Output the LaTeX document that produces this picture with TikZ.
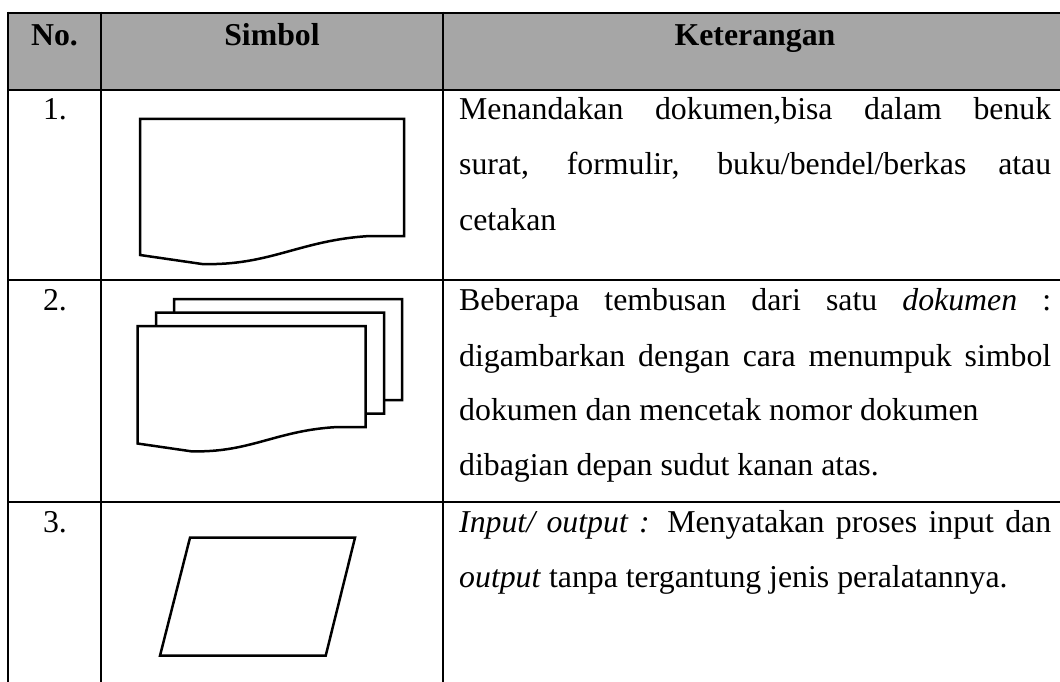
\documentclass[tikz,border=0pt]{standalone}
\usepackage{fontspec}
\setmainfont{Liberation Serif}
\definecolor{hdrgray}{RGB}{166,166,166}
\tikzset{
  tabline/.style={line width=2.8pt, black},
  symline/.style={line width=2.5pt, black, line join=miter, fill=white},
  bodytxt/.style={anchor=base west, inner sep=0pt, font=\fontsize{31.8}{38}\selectfont},
  numtxt/.style={anchor=base, inner sep=0pt, font=\fontsize{31.8}{38}\selectfont},
  hdrtxt/.style={anchor=base, inner sep=0pt, font=\fontsize{31.8}{38}\selectfont\bfseries},
}
\newcommand{\docpath}{(0,0) -- (264,0) -- (264,117) -- (230,117) .. controls (160,121) and (130,147) .. (62,145) -- (0,136) -- cycle}
\newcommand{\jline}[1]{\makebox[592pt][s]{#1}}
\begin{document}
\begin{tikzpicture}[x=1pt, y={(0pt,-1pt)}]
\useasboundingbox (0,0) rectangle (1060,682);
% header background
\fill[hdrgray] (8,13) rectangle (1070,90);
% table lines
\draw[tabline] (8,13) -- (1070,13);
\draw[tabline] (8,90) -- (1070,90);
\draw[tabline] (8,280) -- (1070,280);
\draw[tabline] (8,502) -- (1070,502);
\draw[tabline] (8,11.6) -- (8,690);
\draw[tabline] (101,11.6) -- (101,690);
\draw[tabline] (443,11.6) -- (443,690);
% header texts
\node[hdrtxt] (hno) at (54.5,45.6) {No.};
\node[hdrtxt] (hsim) at (272,45.6) {Simbol};
\node[hdrtxt] (hket) at (755,45.6) {Keterangan};
% numbers
\node[numtxt] (n1) at (55,120) {1.};
\node[numtxt] (n2) at (55,310) {2.};
\node[numtxt] (n3) at (55,532) {3.};
% row 1 text
\node[bodytxt] (t1a) at (459,120) {\jline{Menandakan dokumen,bisa dalam benuk}};
\node[bodytxt] (t1b) at (459,175) {\jline{surat, formulir, buku/bendel/berkas atau}};
\node[bodytxt] (t1c) at (459,230) {cetakan};
% row 2 text
\node[bodytxt] (t2a) at (459,310) {\jline{Beberapa tembusan dari satu \textit{dokumen} :}};
\node[bodytxt] (t2b) at (459,366) {\jline{digambarkan dengan cara menumpuk simbol}};
\node[bodytxt] (t2c) at (459,420) {dokumen dan mencetak nomor dokumen};
\node[bodytxt] (t2d) at (459,475) {dibagian depan sudut kanan atas.};
% row 3 text
\node[bodytxt] (t3a) at (459,532) {\jline{\textit{Input/ output :} Menyatakan proses input dan}};
\node[bodytxt] (t3b) at (459,587) {\textit{output} tanpa tergantung jenis peralatannya.};
% symbol 1: document
\begin{scope}[shift={(140,119)}]
  \draw[symline] \docpath;
\end{scope}
% symbol 2: multiple documents
\begin{scope}[shift={(174,299)}, scale=0.864]
  \draw[symline] \docpath;
\end{scope}
\begin{scope}[shift={(156,312.5)}, scale=0.864]
  \draw[symline] \docpath;
\end{scope}
\begin{scope}[shift={(137.5,326)}, scale=0.864]
  \draw[symline] \docpath;
\end{scope}
% symbol 3: input/output
\draw[symline] (190,537.7) -- (355,537.7) -- (325.7,655.7) -- (160,655.7) -- cycle;
\end{tikzpicture}
\end{document}
